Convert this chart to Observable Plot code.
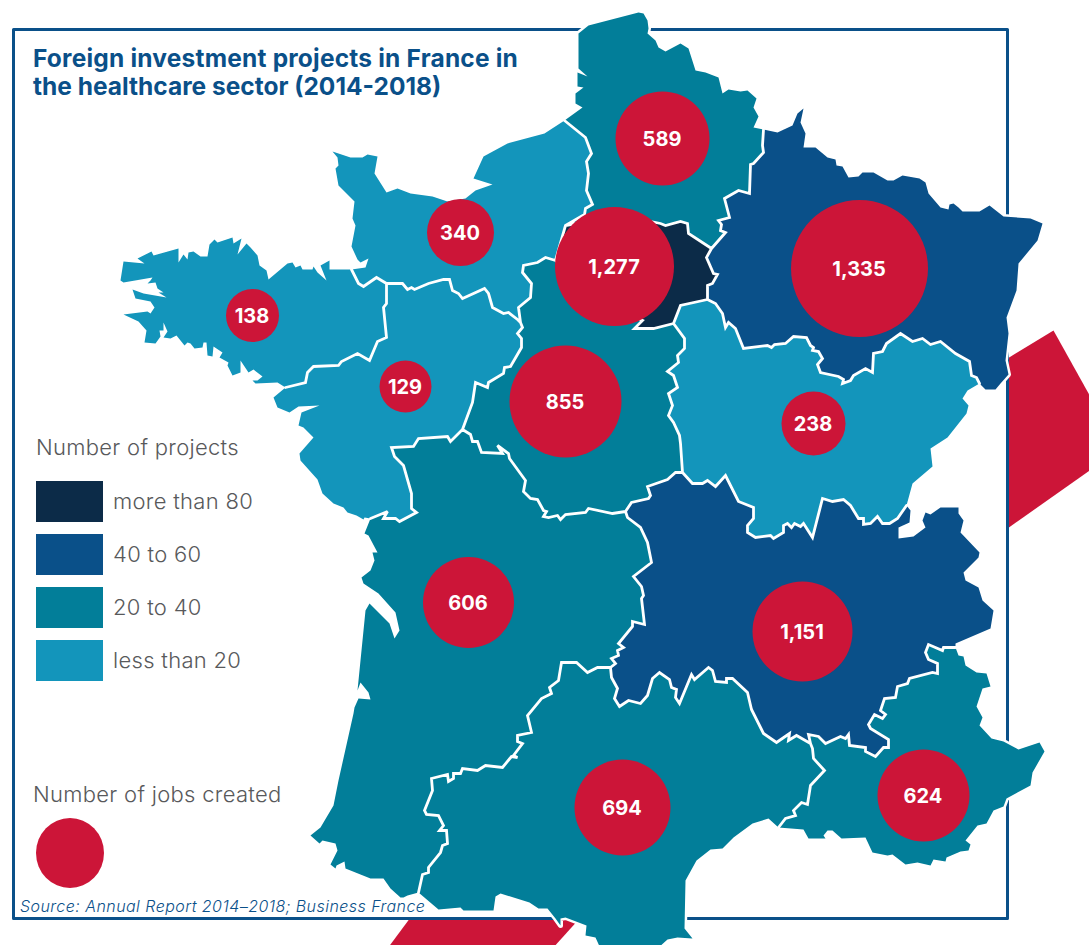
<!DOCTYPE html>
<html>
<head>
<meta charset="utf-8">
<script src="https://cdn.jsdelivr.net/npm/d3@7"></script>
<script src="https://cdn.jsdelivr.net/npm/@observablehq/plot@0.6"></script>
<style>
html,body{margin:0;padding:0;background:#fff;overflow:hidden}
#wrap{position:relative;width:1089px;height:945px;font-family:Inter,"Open Sans",sans-serif}
#wrap svg{display:block;position:absolute;left:0;top:0}
.t{position:absolute;white-space:nowrap}
</style>
</head>
<body>
<div id="wrap"></div>
<script>
// ---- Outline data (map units) ----
const coastBrittany=[[351,269],[329,269],[329,260],[320,265],[326,280],[317,272],[313,266],[312,269],[302,269],[300,265],[295,267],[292,262],[287,263],[268,279],[266,270],[259,265],[257,255],[250,247],[246,243],[237,254],[241,238],[233,243],[232,237],[217,242],[214,239],[209,244],[207,256],[200,256],[193,251],[188,252],[187,259],[183,254],[178,262],[178,248],[153,255],[151,251],[137,258],[144,263],[123,261],[120,280],[123,282],[152,277],[150,280],[147,283],[155,282],[157,288],[163,292],[158,292],[166,297],[143,293],[132,289],[135,298],[150,301],[154,307],[150,313],[147,311],[123,314],[138,321],[146,330],[144,342],[155,343],[160,336],[159,330],[163,330],[163,322],[167,331],[163,337],[170,338],[176,335],[184,345],[187,342],[190,343],[194,348],[202,347],[203,342],[206,342],[207,355],[212,356],[213,346],[222,352],[219,357],[228,362],[227,365],[232,375],[240,372],[240,360],[248,372],[253,369],[262,376],[257,380],[252,380],[255,383],[277,382],[285,387]];
const bBrittanyPays=[[285,387],[305,382],[307,372],[313,366],[338,365],[341,361],[357,353],[369,360],[377,341],[386,337],[383,307],[386,303],[386,283]];
const bBrittanyNormandy=[[386,283],[376,277],[363,286],[358,283],[351,269]];
const coastNormandy=[[351,269],[365,267],[368,258],[360,262],[357,259],[351,246],[355,225],[352,218],[354,201],[338,185],[335,168],[338,165],[337,157],[332,151],[350,157],[362,157],[367,154],[377,156],[374,173],[386,192],[397,188],[410,193],[432,196],[447,201],[465,198],[475,190],[492,184],[473,178],[483,156],[507,143],[544,133],[564,120]];
const bNormandyHauts=[[564,120],[585,137],[591,153],[586,161],[588,173],[586,190],[592,204],[585,208],[584,214],[565,225]];
const bNormandyIdf=[[565,225],[555,260]];
const bNormandyCentre=[[555,260],[545,257],[537,262],[523,265],[522,272],[531,283],[530,297],[518,307],[520,322]];
const bNormandyPays=[[386,283],[402,283],[407,289],[411,287],[414,289],[428,283],[443,279],[449,279],[452,290],[458,293],[462,298],[484,288],[488,293],[492,307],[503,313],[508,312],[517,319],[520,322]];
const coastHauts=[[564,120],[582,107],[575,103],[575,93],[583,87],[577,86],[577,72],[587,76],[578,68],[578,33],[588,25],[638,12],[643,13],[647,20],[648,28],[647,33],[655,40],[658,47],[665,51],[680,43],[688,48],[695,70],[705,72],[718,77],[722,93],[728,89],[740,91],[747,90],[756,98],[753,107],[758,116],[753,127],[763,129]];
const bHautsGrandEst=[[763,129],[762,145],[763,152],[753,163],[750,164],[749,193],[738,190],[724,198],[729,217],[718,220],[721,224],[720,230],[725,232],[711,248]];
const bHautsIdf=[[711,248],[688,233],[687,223],[680,221],[665,225],[660,223],[620,215],[565,225]];
const bIdfGrandEst=[[711,248],[706,257],[713,273],[717,274],[712,283],[707,285],[707,299]];
const bIdfBourgogne=[[707,299],[680,305],[673,323]];
const bIdfCentre=[[673,323],[653,328],[634,328],[642,320],[600,300],[555,260]];
const coastGrandEst=[[979,383],[985,389],[995,389],[1000,383],[1008,374],[1005,360],[1008,333],[1006,317],[1016,290],[1018,263],[1037,240],[1042,223],[1030,218],[1003,216],[989,205],[979,211],[962,211],[958,207],[953,203],[949,204],[948,209],[940,207],[928,193],[925,182],[919,178],[902,175],[893,180],[887,180],[873,172],[862,172],[858,176],[848,177],[842,166],[836,165],[835,159],[827,157],[815,147],[803,147],[805,133],[800,122],[803,108],[797,113],[792,125],[777,132],[763,129]];
const bBourgogneGrandEst=[[707,299],[715,303],[722,313],[725,327],[728,322],[735,328],[743,348],[767,345],[771,347],[774,344],[785,343],[793,336],[806,337],[810,345],[813,347],[812,350],[818,351],[822,358],[817,364],[820,372],[838,376],[843,379],[842,383],[850,380],[853,375],[865,368],[872,372],[873,353],[882,351],[886,343],[900,333],[912,341],[922,338],[930,344],[940,341],[955,353],[969,361],[971,375],[976,377],[979,383]];
const coastBourgogne=[[979,383],[967,390],[962,398],[968,405],[966,413],[947,437],[930,448],[932,466],[912,483],[906,505]];
const bBourgogneAuvergne=[[906,505],[897,518],[889,523],[882,523],[877,516],[870,523],[863,524],[863,518],[858,518],[850,505],[843,499],[832,501],[822,498],[812,537],[803,523],[800,526],[794,523],[791,527],[787,523],[783,525],[783,532],[773,538],[770,535],[755,537],[747,532],[747,525],[753,518],[753,507],[738,501],[725,475],[715,486],[707,480],[702,483],[692,483],[682,472]];
const bCentreBourgogne=[[673,323],[684,338],[684,348],[677,355],[678,362],[667,371],[673,375],[677,387],[668,393],[672,405],[668,415],[673,422],[679,435],[680,443],[682,472]];
const bPaysCentre=[[520,322],[522,327],[517,333],[521,338],[521,347],[510,366],[504,367],[503,373],[488,382],[487,387],[475,382],[472,402],[462,429]];
const coastPays=[[285,387],[273,397],[277,407],[289,412],[298,406],[319,405],[301,412],[298,425],[303,427],[313,437],[299,453],[300,460],[317,479],[322,493],[333,503],[343,507],[347,512],[356,515],[363,519],[364,517],[370,518]];
const bPaysAquitaine=[[370,518],[387,511],[383,518],[395,518],[399,521],[416,512],[411,508],[411,493],[403,465],[394,456],[391,447],[413,446],[418,438],[447,436],[450,441],[462,429]];
const bCentreAquitaine=[[462,429],[470,434],[472,441],[477,441],[481,452],[502,453],[497,445],[508,453],[509,458],[525,480],[523,491],[530,498],[537,499],[543,510],[546,511],[543,516],[548,517],[557,515],[560,519],[565,514],[585,512],[588,508],[612,513],[625,511]];
const bCentreAuvergne=[[625,511],[631,502],[648,498],[650,495],[647,486],[667,479],[675,472],[682,472]];
const bAquitaineAuvergne=[[625,511],[627,517],[640,527],[647,542],[651,562],[633,576],[641,586],[643,595],[641,598],[644,624],[632,621],[632,626],[618,643],[623,647],[617,650],[618,655],[611,658],[615,663],[610,667]];
const bAquitaineOccitanie=[[610,667],[597,667],[587,672],[576,662],[561,662],[558,680],[549,687],[551,693],[541,698],[527,715],[531,732],[517,735],[517,741],[522,743],[513,755],[517,757],[511,756],[502,767],[485,765],[477,770],[462,768],[460,773],[453,773],[453,778],[448,781],[447,774],[431,778],[432,790],[424,810],[426,814],[438,815],[443,825],[439,830],[446,830],[447,843],[442,845],[440,852],[428,867],[428,872],[422,874],[418,892]];
const coastAquitaine=[[418,892],[407,895],[403,897],[400,897],[390,888],[383,878],[370,878],[345,868],[344,861],[336,865],[335,868],[330,864],[337,850],[335,843],[322,840],[319,843],[310,835],[320,827],[333,805],[338,780],[353,713],[354,707],[358,698],[370,699],[368,692],[360,682],[357,690],[365,610],[369,603],[389,623],[394,638],[399,630],[395,612],[378,593],[363,583],[361,577],[370,570],[374,560],[372,552],[377,552],[368,535],[364,533],[370,518]];
const coastAuvergne=[[906,505],[910,510],[909,522],[898,527],[898,538],[913,536],[925,527],[922,520],[925,512],[930,514],[940,507],[958,507],[958,513],[963,520],[960,532],[979,552],[978,557],[963,572],[965,580],[978,587],[982,600],[993,610],[990,628],[955,643],[955,647]];
const bAuvergnePaca=[[955,647],[943,647],[942,650],[928,644],[925,652],[928,659],[937,663],[937,673],[932,672],[909,678],[907,683],[897,686],[895,697],[884,698],[880,710],[885,714],[882,718],[874,714],[868,724],[870,728],[888,739],[888,747],[883,747],[875,756],[865,751],[865,747],[849,745],[848,734],[845,738],[840,736],[825,743],[818,736],[808,734],[810,743]];
const bAuvergneOccitanie=[[810,743],[796,735],[788,740],[789,733],[776,742],[763,733],[751,709],[747,692],[732,678],[726,678],[726,682],[715,681],[712,670],[708,667],[694,679],[691,674],[679,703],[675,697],[676,689],[671,687],[669,679],[659,672],[652,678],[647,695],[640,703],[628,700],[619,706],[614,698],[617,688],[611,677],[610,667]];
const bOccitaniePaca=[[810,743],[812,748],[813,758],[824,770],[810,785],[807,804],[801,802],[793,810],[795,815],[785,818],[778,827]];
const coastOccitanie=[[778,827],[768,818],[752,823],[733,837],[722,848],[710,849],[696,860],[685,880],[684,928],[692,938],[677,937],[667,939],[657,948],[613,945],[600,948],[595,937],[585,935],[586,925],[565,917],[560,918],[560,925],[555,918],[547,908],[538,908],[529,902],[500,893],[495,896],[493,910],[463,910],[460,907],[438,909],[418,892]];
const coastPaca=[[778,827],[803,829],[808,838],[825,838],[823,835],[827,830],[832,830],[841,838],[865,837],[872,852],[887,855],[892,854],[905,864],[917,862],[930,865],[933,859],[945,861],[946,857],[960,851],[968,850],[970,844],[965,840],[977,825],[986,823],[993,810],[1003,806],[1006,798],[1030,785],[1032,772],[1044,751],[1039,742],[1018,749],[1003,741],[991,738],[979,725],[982,717],[976,706],[982,688],[990,686],[986,673],[976,672],[965,665],[963,656],[958,655],[955,647]];

const frameRing=[[13,29],[1007,29],[1007,918],[13,918],[13,29]];
const stripeRight=[[1007,358],[1053,330],[1092,400],[1092,468],[1007,528]];
const stripeBottom=[[410,917],[580,917],[552,948],[387,948]];

// ---- Values ----
const buckets=["more than 80","40 to 60","20 to 40","less than 20"];
const bucketColors=["#0c2b48","#0a5089","#027e99","#1395bb"];
const regionNames=["Bretagne","Normandie","Hauts-de-France","Grand Est","Île-de-France","Pays de la Loire","Centre","Bourgogne-Franche-Comté","Nouvelle-Aquitaine","Auvergne-Rhône-Alpes","Occitanie","PACA"];
const regionBuckets=["less than 20","less than 20","20 to 40","40 to 60","more than 80","less than 20","20 to 40","less than 20","20 to 40","40 to 60","20 to 40","20 to 40"];
const jobs=[138,340,589,1335,1277,129,855,238,606,1151,694,624];
const bubbleLon=[252,460,662,859,614,405,565,813,468,802,622,923];
const bubbleLat=[315,232,138,268,266,386,401,423,602,631,807,795];
const jobsSorted=[129,138,238,340,589,606,624,694,855,1151,1277,1335];
const jobsRadius=[26,26.5,32,33.5,47,45.5,46,48,56,50,59.5,68.5];

// ---- Assemble ----
const rev=a=>a.slice().reverse();
const rings=[
 [...coastBrittany,...bBrittanyPays,...bBrittanyNormandy],
 [...coastNormandy,...bNormandyHauts,...bNormandyIdf,...bNormandyCentre,...rev(bNormandyPays),...bBrittanyNormandy],
 [...coastHauts,...bHautsGrandEst,...bHautsIdf,...rev(bNormandyHauts)],
 [...coastGrandEst,...bHautsGrandEst,...bIdfGrandEst,...bBourgogneGrandEst],
 [...bIdfGrandEst,...bIdfBourgogne,...bIdfCentre,...rev(bNormandyIdf),...rev(bHautsIdf)],
 [...coastPays,...bPaysAquitaine,...rev(bPaysCentre),...rev(bNormandyPays),...rev(bBrittanyPays)],
 [...bNormandyCentre,...bPaysCentre,...bCentreAquitaine,...bCentreAuvergne,...rev(bCentreBourgogne),...bIdfCentre],
 [...bBourgogneGrandEst,...coastBourgogne,...bBourgogneAuvergne,...rev(bCentreBourgogne),...rev(bIdfBourgogne)],
 [...coastAquitaine,...bPaysAquitaine,...bCentreAquitaine,...bAquitaineAuvergne,...bAquitaineOccitanie],
 [...coastAuvergne,...bAuvergnePaca,...bAuvergneOccitanie,...rev(bAquitaineAuvergne),...bCentreAuvergne,...rev(bBourgogneAuvergne)],
 [...rev(bAuvergneOccitanie),...bOccitaniePaca,...coastOccitanie,...rev(bAquitaineOccitanie)],
 [...rev(bAuvergnePaca),...rev(coastPaca),...rev(bOccitaniePaca)]
];
const innerBorders=[bBrittanyPays,bBrittanyNormandy,bNormandyHauts,bNormandyIdf,bNormandyCentre,bNormandyPays,bHautsGrandEst,bHautsIdf,bIdfGrandEst,bIdfBourgogne,bIdfCentre,bBourgogneGrandEst,bBourgogneAuvergne,bCentreBourgogne,bPaysCentre,bPaysAquitaine,bCentreAquitaine,bCentreAuvergne,bAquitaineAuvergne,bAquitaineOccitanie,bAuvergnePaca,bAuvergneOccitanie,bOccitaniePaca];
const close=r=>[...r,r[0]];
const regions=regionNames.map((name,i)=>({type:"Feature",properties:{name,bucket:regionBuckets[i]},geometry:{type:"Polygon",coordinates:[close(rings[i])]}}));
const shape=r=>({type:"Polygon",coordinates:[close(r)]});
const bubbles=jobs.map((v,i)=>({v,lon:bubbleLon[i],lat:bubbleLat[i]}));

const chart=Plot.plot({
  width:1089,height:945,margin:0,
  projection:{type:"identity"},
  color:{domain:buckets,range:bucketColors},
  r:{type:"linear",domain:jobsSorted,range:jobsRadius,clamp:true},
  style:{background:"transparent"},
  marks:[
    Plot.geo([shape(stripeRight),shape(stripeBottom)],{fill:"#cc1538",stroke:"none"}),
    Plot.geo([shape(frameRing)],{fill:"#fff",stroke:"#0a5089",strokeWidth:3}),
    Plot.geo(regions,{fill:"#fff",stroke:"#fff",strokeWidth:5}),
    Plot.geo(regions,{fill:d=>d.properties.bucket,stroke:"none"}),
    Plot.geo([{type:"MultiLineString",coordinates:innerBorders}],{fill:"none",stroke:"#fff",strokeWidth:2.8,strokeLinejoin:"miter",strokeMiterlimit:3}),
    Plot.dot(bubbles,{x:"lon",y:"lat",r:"v",fill:"#cc1538",stroke:"none"}),
    Plot.text(bubbles,{x:"lon",y:"lat",text:d=>d3.format(",")(d.v),fill:"#fff",fontSize:20,fontWeight:700,fontFamily:"Inter",dx:-0.5,dy:1.5,style:{letterSpacing:"0.7px"}})
  ]
});
const wrap=document.getElementById("wrap");
wrap.appendChild(chart);

function put(text,x,y,css){const d=document.createElement("div");d.className="t";d.textContent=text;d.style.cssText=`left:${x}px;top:${y}px;${css}`;wrap.appendChild(d);return d;}
const grey="color:#58595b;font-size:22px;line-height:26px;font-weight:300;letter-spacing:0.3px;";
const titleCss="color:#0a5089;font-size:24.5px;line-height:28px;font-weight:700;";
put("Foreign investment projects in France in",33,44,titleCss+"letter-spacing:0.2px;");
put("the healthcare sector (2014-2018)",33,72,titleCss);
put("Number of projects",36,434,grey);
buckets.forEach((b,i)=>{
  put("",36,481+i*53,`width:67px;height:41px;background:${bucketColors[i]};`);
  put(b,113,488+i*53,grey);
});
put("Number of jobs created",33,781,grey);
put("",36,818,"width:68px;height:70px;border-radius:50%;background:#cc1538;");
put("Source: Annual Report 2014–2018; Business France",20,897,"color:#0a5089;font-size:16px;line-height:18px;font-style:italic;font-weight:300;letter-spacing:0.45px;");
</script>
</body>
</html>
